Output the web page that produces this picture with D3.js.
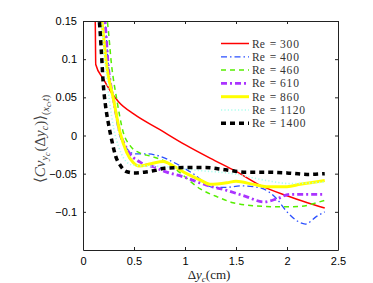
<!DOCTYPE html>
<html>
<head>
<meta charset="utf-8">
<script src="https://cdn.jsdelivr.net/npm/d3@7"></script>
<style>
  body { margin: 0; background: #fff; }
  svg { display: block; }
  .tick text { font-family: "Liberation Sans", Arial, sans-serif; font-size: 11px; }
  .lbl { font-family: "Liberation Serif", "DejaVu Serif", serif; }
</style>
</head>
<body>
<div id="chart"></div>
<script>
// Size of the page
const width = 373;
const height = 283;

// Axis ticks
const xTicks = [0, 0.5, 1, 1.5, 2, 2.5];
const yTicks = [-0.1, -0.05, 0, 0.05, 0.1, 0.15];

// Series names (Reynolds numbers)
const reValues = ["300", "400", "460", "610", "860", "1120", "1400"];

// Series values, [dyc, value]
const re300 = [[0.115, 0.16], [0.12, 0.15], [0.125, 0.093], [0.2, 0.074], [0.27, 0.058], [0.35, 0.044], [0.5, 0.028], [0.75, 0.008], [1.0, -0.012], [1.25, -0.03], [1.5, -0.047], [1.75, -0.066], [2.0, -0.079], [2.2, -0.088], [2.37, -0.095]];
const re400 = [[0.2, 0.16], [0.215, 0.15], [0.25, 0.09], [0.3, 0.045], [0.35, 0.005], [0.4, -0.012], [0.45, -0.02], [0.5, -0.024], [0.62, -0.024], [0.75, -0.027], [0.886, -0.035], [1.08, -0.05], [1.28, -0.068], [1.4, -0.068], [1.55, -0.066], [1.67, -0.067], [1.8, -0.072], [1.9, -0.083], [2.0, -0.1], [2.1, -0.112], [2.18, -0.116], [2.29, -0.106], [2.37, -0.1]];
const re460 = [[0.225, 0.16], [0.238, 0.15], [0.281, 0.091], [0.33, 0.048], [0.395, 0.004], [0.46, -0.013], [0.56, -0.023], [0.66, -0.027], [0.82, -0.035], [0.98, -0.052], [1.15, -0.07], [1.31, -0.08], [1.47, -0.088], [1.67, -0.092], [1.96, -0.0935], [2.13, -0.093], [2.29, -0.088], [2.37, -0.085]];
const re610 = [[0.205, 0.16], [0.215, 0.15], [0.248, 0.091], [0.298, 0.048], [0.363, 0.004], [0.428, -0.017], [0.56, -0.035], [0.69, -0.041], [0.82, -0.048], [0.98, -0.054], [1.21, -0.065], [1.41, -0.072], [1.6, -0.08], [1.77, -0.087], [1.9, -0.083], [2.03, -0.077], [2.19, -0.077], [2.37, -0.077]];
const re860 = [[0.175, 0.16], [0.185, 0.15], [0.232, 0.091], [0.298, 0.048], [0.363, 0.004], [0.428, -0.022], [0.49, -0.035], [0.55, -0.04], [0.667, -0.037], [0.787, -0.034], [0.886, -0.04], [1.016, -0.05], [1.147, -0.058], [1.245, -0.064], [1.41, -0.062], [1.5, -0.06], [1.67, -0.064], [1.8, -0.067], [2.0, -0.067], [2.13, -0.064], [2.37, -0.059]];
const re1120 = [[0.17, 0.16], [0.18, 0.15], [0.22, 0.09], [0.26, 0.045], [0.3, 0.01], [0.35, -0.015], [0.4, -0.03], [0.45, -0.037], [0.5, -0.039], [0.82, -0.041], [1.15, -0.046], [1.47, -0.05], [1.8, -0.059], [2.03, -0.063], [2.37, -0.061]];
const re1400 = [[0.15, 0.16], [0.16, 0.15], [0.18, 0.11], [0.2, 0.065], [0.22, 0.04], [0.25, 0.015], [0.28, -0.005], [0.32, -0.027], [0.37, -0.04], [0.42, -0.047], [0.5, -0.049], [0.6, -0.048], [0.7, -0.046], [0.8, -0.043], [1.0, -0.042], [1.2, -0.042], [1.4, -0.045], [1.6, -0.048], [1.8, -0.048], [2.0, -0.049], [2.2, -0.051], [2.37, -0.05]];

const seriesData = [re300, re400, re460, re610, re860, re1120, re1400];

// Line styles, matching the order of the labels
const styles = [
  { color: "#ff0000", w: 1.5, dash: null },
  { color: "#2a4fff", w: 1.3, dash: "6,3,1.5,3" },
  { color: "#55ee00", w: 1.5, dash: "5,4" },
  { color: "#aa33ff", w: 2.8, dash: "6,3,2,3" },
  { color: "#ffff00", w: 3, dash: null },
  { color: "#aaffee", w: 1.6, dash: "1.2,2.2" },
  { color: "#000000", w: 3.5, dash: "5,4" }
];

const margin = { left: 83, right: 35, top: 21, bottom: 33 };

const svg = d3.select("#chart")
    .append("svg")
    .attr("width", width)
    .attr("height", height);

const x = d3.scaleLinear().domain([0, 2.5]).range([margin.left, width - margin.right]);
const y = d3.scaleLinear().domain([-0.15, 0.15]).range([height - margin.bottom, margin.top]);

// Clip lines to the axes box
svg.append("clipPath").attr("id", "clip")
    .append("rect")
    .attr("x", x(0)).attr("y", y(0.15))
    .attr("width", x(2.5) - x(0)).attr("height", y(-0.15) - y(0.15));

const line = d3.line()
    .x(d => x(d[0]))
    .y(d => y(d[1]))
    .curve(d3.curveMonotoneX);

const plot = svg.append("g").attr("clip-path", "url(#clip)");
seriesData.forEach((s, i) => {
  plot.append("path")
      .attr("d", line(s))
      .attr("fill", "none")
      .attr("stroke", styles[i].color)
      .attr("stroke-width", styles[i].w)
      .attr("stroke-dasharray", styles[i].dash);
});

// Axes, ticks pointing inward like matlab
const fmt = d => d === 0 ? "0" : String(d).replace("-", "\u2212");
svg.append("g")
    .attr("transform", `translate(0,${y(-0.15)})`)
    .call(d3.axisBottom(x).tickValues(xTicks).tickSizeInner(-3).tickSizeOuter(0).tickPadding(7).tickFormat(fmt));
svg.append("g")
    .attr("transform", `translate(0,${y(0.15)})`)
    .call(d3.axisTop(x).tickValues(xTicks).tickSizeInner(-3).tickSizeOuter(0).tickFormat(""));
svg.append("g")
    .attr("transform", `translate(${x(0)},0)`)
    .call(d3.axisLeft(y).tickValues(yTicks).tickSizeInner(-3).tickSizeOuter(0).tickPadding(6).tickFormat(fmt));
svg.append("g")
    .attr("transform", `translate(${x(2.5)},0)`)
    .call(d3.axisRight(y).tickValues(yTicks).tickSizeInner(-3).tickSizeOuter(0).tickFormat(""));
svg.selectAll(".domain").attr("stroke", "#222");
svg.selectAll(".tick line").attr("stroke", "#222");

// Legend
const legend = svg.append("g").attr("transform", "translate(221,43.5)");
reValues.forEach((v, i) => {
  const row = legend.append("g").attr("transform", `translate(0,${i * 13.3})`);
  row.append("line")
      .attr("x1", 0).attr("x2", 28)
      .attr("stroke", styles[i].color)
      .attr("stroke-width", styles[i].w)
      .attr("stroke-dasharray", styles[i].dash);
  const t = row.append("text")
      .attr("class", "lbl")
      .attr("x", 31).attr("y", 4)
      .attr("font-size", 11.5)
      .attr("fill", "#333");
  t.append("tspan").text("Re");
  t.append("tspan").attr("dx", 2).text(" = ");
  t.append("tspan").attr("dx", 1).attr("letter-spacing", 0.8).text(v);
});

// x label
const xl = svg.append("text").attr("class", "lbl")
    .attr("x", 209).attr("y", 279)
    .attr("text-anchor", "middle").attr("font-size", 13).attr("fill", "#222");
xl.append("tspan").text("\u0394");
xl.append("tspan").attr("font-style", "italic").text("y");
xl.append("tspan").attr("font-style", "italic").attr("font-size", 9).attr("dy", 3).text("c");
xl.append("tspan").attr("dy", -3).text("(cm)");

// y label
const yl = svg.append("text").attr("class", "lbl")
    .attr("transform", "translate(45,139) rotate(-90)")
    .attr("text-anchor", "middle").attr("font-size", 15).attr("fill", "#444");
yl.append("tspan").text("\u27E8");
yl.append("tspan").attr("font-style", "italic").text("Cv");
yl.append("tspan").attr("font-style", "italic").attr("font-size", 10).attr("dy", 3).text("y");
yl.append("tspan").attr("font-style", "italic").attr("font-size", 8).attr("dy", 2).text("c");
yl.append("tspan").attr("dy", -5).attr("dx", 1).text("(\u0394");
yl.append("tspan").attr("font-style", "italic").text("y");
yl.append("tspan").attr("font-style", "italic").attr("font-size", 10).attr("dy", 3).text("c");
yl.append("tspan").attr("dy", -3).text(")\u27E9");
yl.append("tspan").attr("font-size", 10).attr("dy", 4).text("(");
yl.append("tspan").attr("font-style", "italic").attr("font-size", 10).text("x");
yl.append("tspan").attr("font-style", "italic").attr("font-size", 8).attr("dy", 2).text("c");
yl.append("tspan").attr("font-size", 10).attr("dy", -2).text(",");
yl.append("tspan").attr("font-style", "italic").attr("font-size", 10).text("t");
yl.append("tspan").attr("font-size", 10).text(")");
</script>
</body>
</html>
